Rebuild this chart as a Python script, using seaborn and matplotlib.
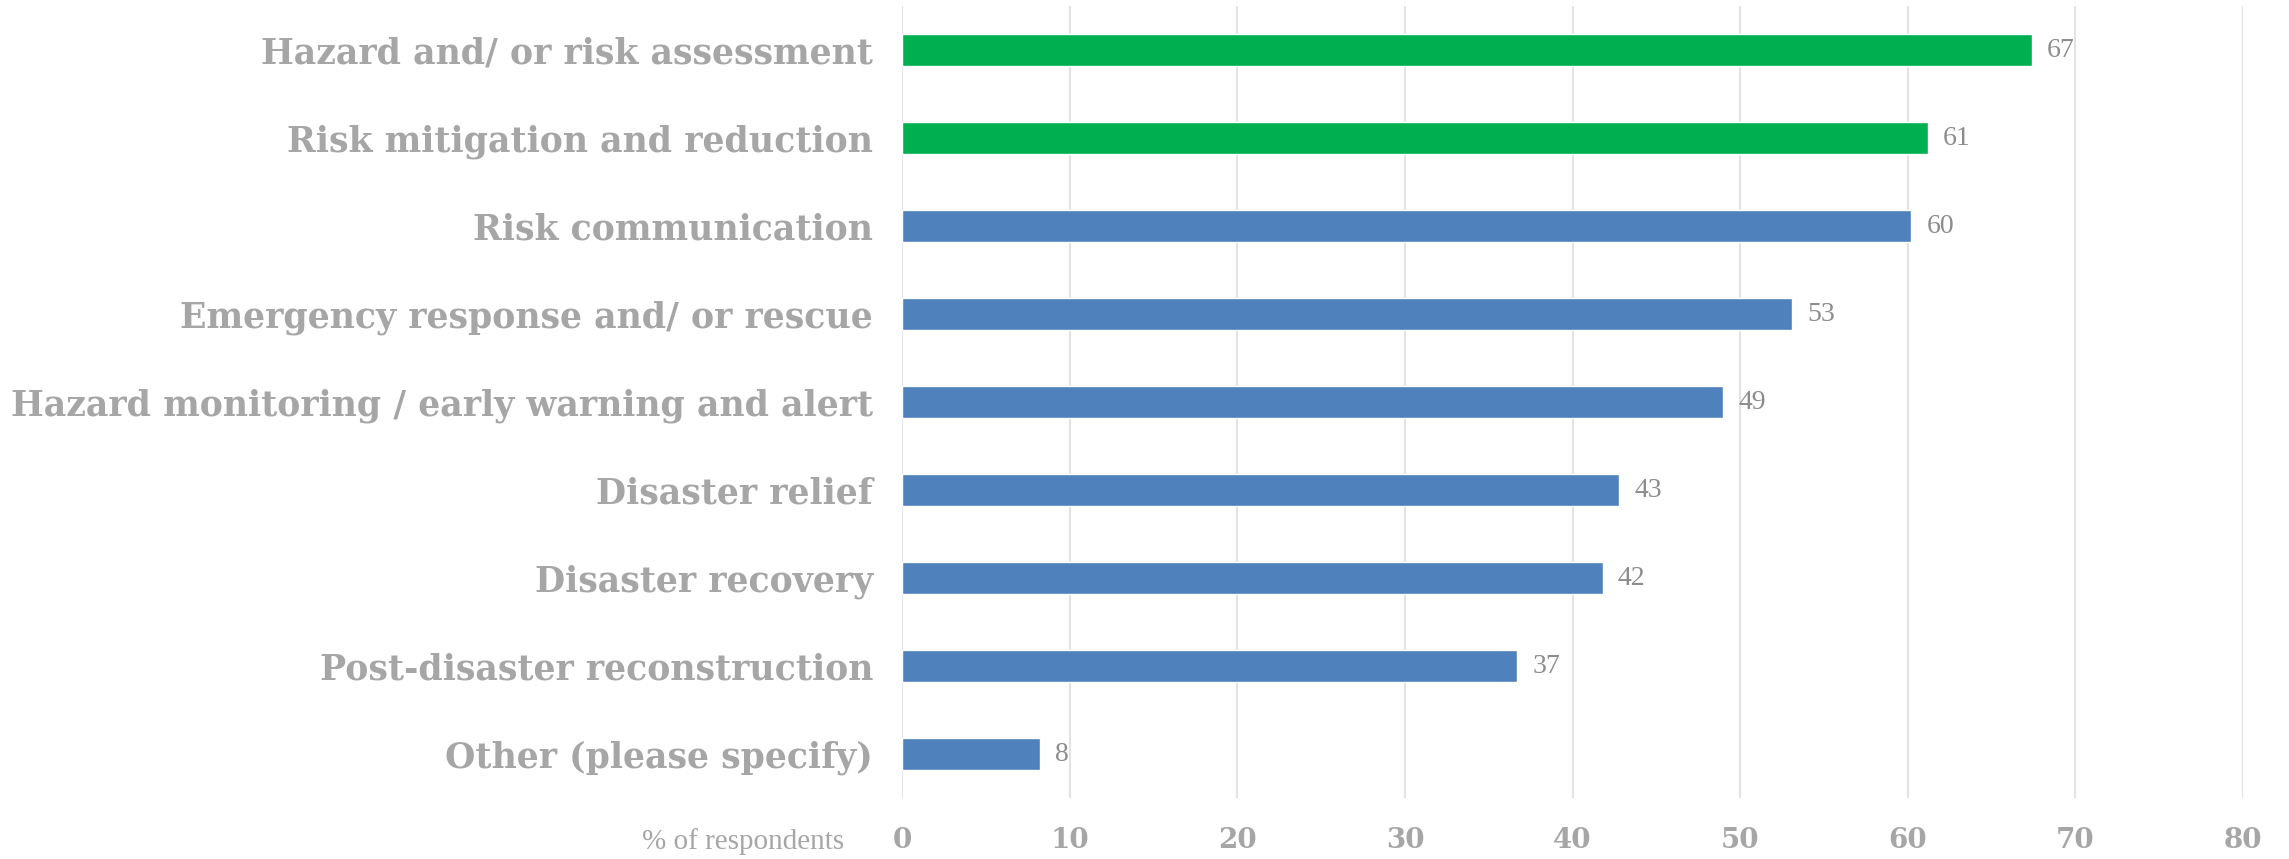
import matplotlib
matplotlib.use('Agg')
import matplotlib.pyplot as plt
import seaborn as sns

GRAY = "#A6A6A6"
GREEN = "#00B050"
BLUE = "#4F81BD"

categories = [
    "Hazard and/ or risk assessment",
    "Risk mitigation and reduction",
    "Risk communication",
    "Emergency response and/ or rescue",
    "Hazard monitoring / early warning and alert",
    "Disaster relief",
    "Disaster recovery",
    "Post-disaster reconstruction",
    "Other (please specify)",
]
values = [67.4, 61.2, 60.2, 53.1, 49.0, 42.8, 41.8, 36.7, 8.2]
value_labels = ["67", "61", "60", "53", "49", "43", "42", "37", "8"]
bar_colors = [GREEN, GREEN, BLUE, BLUE, BLUE, BLUE, BLUE, BLUE, BLUE]
xticks = [0, 10, 20, 30, 40, 50, 60, 70, 80]

sns.set_style("white")
plt.rcParams['font.family'] = ['Liberation Serif', 'DejaVu Serif']

fig = plt.figure(figsize=(22.89, 8.59), dpi=100)
ax = fig.add_axes([0.3941, 0.0710, 0.5858, 0.9220])

sns.barplot(x=values, y=categories, hue=categories, palette=bar_colors,
            legend=False, orient='h', width=0.36, saturation=1, ax=ax)

for cont, lab in zip(ax.containers, value_labels):
    ax.bar_label(cont, labels=[lab], padding=11, fontsize=20, color="#8C8C8C")

ax.set_xlim(0, 80)
ax.set_ylim(8.5, -0.5)
ax.set_xticks(xticks)
ax.set_xticklabels([str(t) for t in xticks], family='DejaVu Serif', fontsize=20,
                   fontweight='bold', color=GRAY)
ax.tick_params(axis='x', length=0, pad=21)
ax.tick_params(axis='y', length=0, pad=21)
for t in ax.get_yticklabels():
    t.set_family('DejaVu Serif')
    t.set_fontsize(25)
    t.set_fontweight('bold')
    t.set_color(GRAY)

ax.grid(axis='x', color="#E3E3E3", linewidth=1.5)
ax.set_axisbelow(True)
sns.despine(ax=ax, left=True, bottom=True)
ax.set_xlabel("")
ax.set_ylabel("")

fig.text(844 / 2289, 1 - 842 / 859, "% of respondents", ha='right', va='center',
         fontsize=21, color=GRAY)

fig.savefig("out.png", dpi=100)
plt.close(fig)
